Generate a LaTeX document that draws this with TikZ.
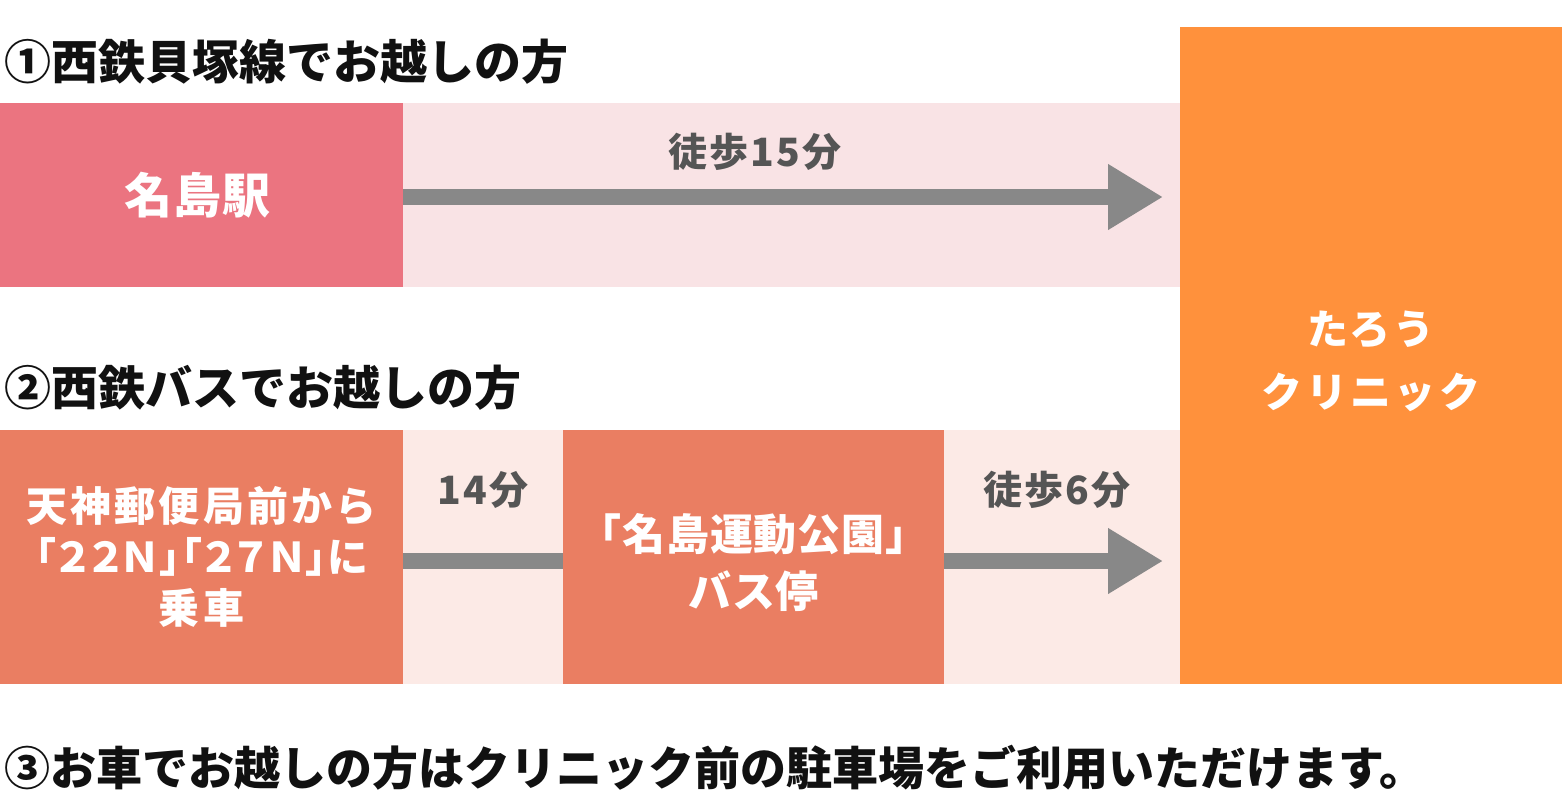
\documentclass[tikz,border=0pt]{standalone}
\usepackage{fontspec}
\setmainfont{Noto Sans CJK JP}
\newfontfamily\jpsp{Noto Sans CJK JP}[LetterSpace=2]
\newfontfamily\jpspm{Noto Sans CJK JP}[LetterSpace=8]
\newfontfamily\jpspp{Noto Sans CJK JP}[LetterSpace=3,RawFeature=+palt]
\newfontfamily\jpspl{Noto Sans CJK JP}[LetterSpace=6]
\usetikzlibrary{arrows.meta}
\definecolor{pinkbg}{HTML}{F9E3E5}
\definecolor{pinkbox}{HTML}{EB7480}
\definecolor{salbg}{HTML}{FCEAE6}
\definecolor{salbox}{HTML}{EA7E62}
\definecolor{orng}{HTML}{FF913C}
\definecolor{arrowgray}{HTML}{888888}
\definecolor{labelgray}{HTML}{555555}
\definecolor{headtext}{HTML}{111111}
\begin{document}
\begin{tikzpicture}[x=1pt,y=-1pt,
  box/.style={anchor=north west,inner sep=0pt,outer sep=0pt,align=center,text=white,font=\jpsp\bfseries\fontsize{43}{51}\selectfont},
  bgband/.style={anchor=north west,inner sep=0pt,outer sep=0pt},
  heading/.style={anchor=west,inner sep=0pt,text=headtext,font=\bfseries\fontsize{47}{50}\selectfont},
  steplabel/.style={inner sep=0pt,text=labelgray,font=\jpspl\bfseries\fontsize{39}{40}\selectfont},
  conn/.style={draw=arrowgray,line width=16pt},
  connarrow/.style={conn,-{Triangle[length=55pt,width=62pt]}}
]
\useasboundingbox (0,0) rectangle (1562,804);
\fill[white] (0,0) rectangle (1562,804);
% background bands
\node[bgband,fill=pinkbg,minimum width=1180pt,minimum height=184pt] (band1) at (0,103) {};
\node[bgband,fill=salbg,minimum width=1180pt,minimum height=254pt] (band2) at (0,430) {};
% clinic
\node[box,fill=orng,minimum width=382pt,minimum height=657pt] (clinic) at (1180,27) {};
\node[inner sep=0pt,align=center,text=white,font=\jpspm\bfseries\fontsize{41}{63}\selectfont] (clinictext) at ([yshift=-6pt]clinic.center) {たろう\\クリニック};
% row 1
\node[box,fill=pinkbox,minimum width=403pt,minimum height=184pt,font=\jpsp\bfseries\fontsize{48}{56}\selectfont] (eki) at (0,103) {名島駅\hspace*{8pt}};
\coordinate (tip1) at (1163,197);
\draw[connarrow] (eki.east |- tip1) -- (tip1);
\node[steplabel] (lab1) at (755,152) {徒歩15分};
% row 2
\node[box,fill=salbox,minimum width=403pt,minimum height=254pt,font=\jpspm\bfseries\fontsize{41}{51}\selectfont] (bus1) at (0,430) {天神郵便局前から\\{\jpspp 「２２Ｎ」「２７Ｎ」に}\\乗車};
\node[box,fill=salbox,minimum width=381pt,minimum height=254pt] (bus2) at (563,430) {};
\node[inner sep=0pt,align=center,text=white,font=\jpsp\bfseries\fontsize{43}{57}\selectfont] (bus2text) at ([yshift=-6pt]bus2.center) {「名島運動公園」\\バス停};
\coordinate (lineL) at (403,561);
\coordinate (lineR) at (563,561);
\coordinate (tip2) at (1163,561);
\draw[conn] (lineL) -- (lineR);
\draw[connarrow] (bus2.east |- tip2) -- (tip2);
\node[steplabel] (lab2) at (483,490) {14分};
\node[steplabel] (lab3) at (1057,490) {徒歩6分};
% headings
\node[heading] (h1) at (4,62) {①西鉄貝塚線でお越しの方};
\node[heading] (h2) at (4,388) {②西鉄バスでお越しの方};
\node[heading,font=\bfseries\fontsize{46}{50}\selectfont] (h3) at (4,768) {③お車でお越しの方はクリニック前の駐車場をご利用いただけます。};
\end{tikzpicture}
\end{document}
